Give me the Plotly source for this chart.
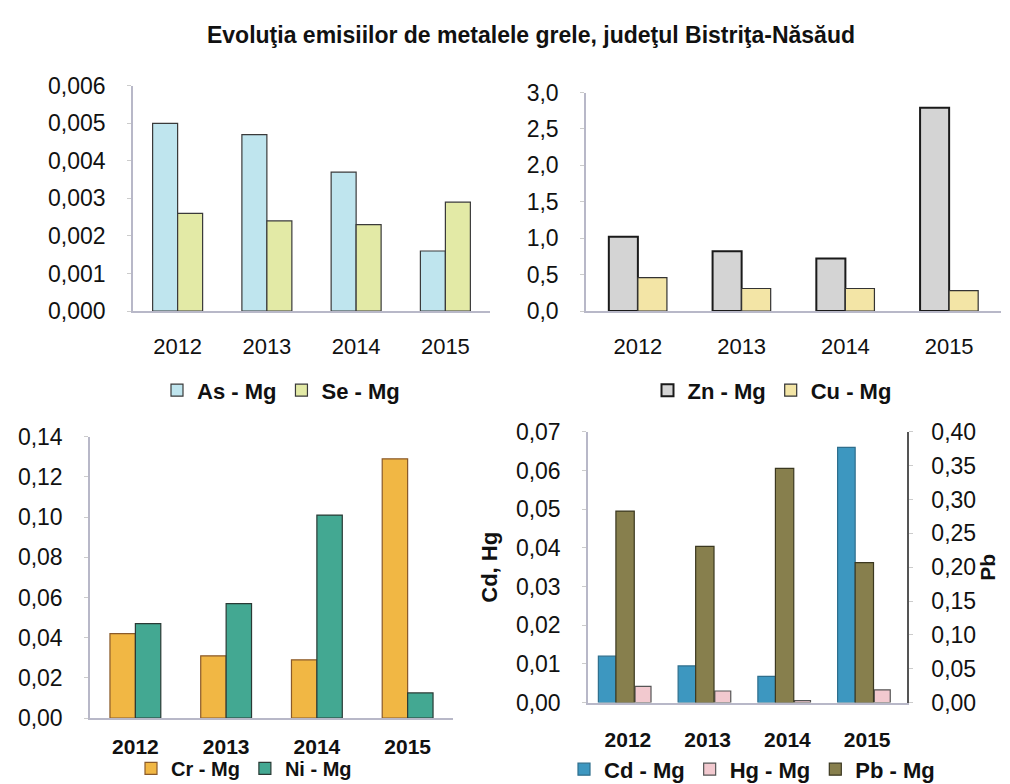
import plotly.graph_objects as go

years = ["2012", "2013", "2014", "2015"]

# panel 1
as_mg = [0.0050, 0.0047, 0.0037, 0.0016]
se_mg = [0.0026, 0.0024, 0.0023, 0.0029]
# panel 2
zn_mg = [1.02, 0.82, 0.72, 2.79]
cu_mg = [0.46, 0.31, 0.31, 0.28]
# panel 3
cr_mg = [0.042, 0.031, 0.029, 0.129]
ni_mg = [0.047, 0.057, 0.101, 0.0125]
# panel 4
cd_mg = [0.012, 0.0095, 0.0068, 0.066]
hg_mg = [0.0042, 0.0030, 0.0005, 0.0033]
pb_mg = [0.283, 0.231, 0.346, 0.207]

W, H = 1010, 784
FONT = "Liberation Sans, Arial, sans-serif"


def px(x):
    return x / W


def py(y):
    return 1 - y / H


fig = go.Figure()


def bar(y, name, color, edge, xa, ya, leg, lw=1.2, **kw):
    fig.add_trace(go.Bar(
        x=years, y=y, name=name, xaxis=xa, yaxis=ya, legend=leg,
        marker=dict(color=color, line=dict(color=edge, width=lw)), **kw
    ))


bar(as_mg, "As - Mg", "#bfe5ee", "#3a3a3a", "x", "y", "legend")
bar(se_mg, "Se - Mg", "#e3eaa6", "#3a3a3a", "x", "y", "legend")
bar(zn_mg, "Zn - Mg", "#d4d4d4", "#1a1a1a", "x2", "y2", "legend2", lw=2)
bar(cu_mg, "Cu - Mg", "#f3e5a6", "#333333", "x2", "y2", "legend2")
bar(cr_mg, "Cr - Mg", "#f1b744", "#8a5a2a", "x3", "y3", "legend3")
bar(ni_mg, "Ni - Mg", "#43a892", "#2a3a35", "x3", "y3", "legend3")
bar(cd_mg, "Cd - Mg", "#3d97c0", "#2e6e8c", "x4", "y4", "legend4", offset=-0.37, width=0.22)
bar(hg_mg, "Hg - Mg", "#f2c9cf", "#555555", "x4", "y4", "legend4", offset=0.09, width=0.2)
bar(pb_mg, "Pb - Mg", "#877f4d", "#3b3820", "x4", "y5", "legend4", offset=-0.15, width=0.23)

tickfont = dict(family=FONT, size=23, color="#111111")
xfont = dict(family=FONT, size=22, color="#111111")
boldfont = dict(family=FONT, size=21, color="#111111", weight="bold")


def xax(dom, anchor, font, standoff):
    return dict(domain=dom, anchor=anchor, type="category", showline=True,
                linecolor="#b8b8c8", linewidth=1.5, ticks="", showgrid=False,
                tickfont=font, ticklabelstandoff=standoff)


def yax(dom, anchor, rng, dtick, fmt, **kw):
    d = dict(domain=dom, anchor=anchor, range=rng, dtick=dtick, tickformat=fmt,
             showline=True, linecolor="#b8b8c8", linewidth=1.5, ticks="outside",
             ticklen=4, tickcolor="#cccccc", showgrid=False, zeroline=False,
             tickfont=tickfont, ticklabelstandoff=17)
    d.update(kw)
    return d


def legend(x, y, size):
    return dict(x=x, y=y, xanchor="center", yanchor="middle", orientation="h",
                font=dict(family=FONT, size=size, color="#111111", weight="bold"),
                itemwidth=30, bgcolor="rgba(0,0,0,0)", tracegroupgap=0)


fig.update_layout(
    width=W, height=H,
    margin=dict(l=0, r=0, t=0, b=0),
    paper_bgcolor="white", plot_bgcolor="white",
    separators=", ",
    barmode="group",
    showlegend=True,
    font=dict(family=FONT, color="#111111"),
    title=dict(text="Evoluţia emisiilor de metalele grele, judeţul Bistriţa-Năsăud",
               x=px(523), xanchor="center", y=py(27), yanchor="middle",
               font=dict(family=FONT, size=23, color="#111111", weight="bold")),
    xaxis=xax([px(125), px(482)], "y", xfont, 15),
    yaxis=yax([py(300), py(67)], "x", [0, 0.006], 0.001, ".3f"),
    xaxis2=xax([px(578), px(993)], "y2", xfont, 15),
    yaxis2=yax([py(300), py(74)], "x2", [0, 3.0], 0.5, ".1f"),
    xaxis3=xax([px(82), px(445)], "y3", boldfont, 9),
    yaxis3=yax([py(721), py(430)], "x3", [0, 0.14], 0.02, ".2f"),
    xaxis4=xax([px(580), px(899)], "y4", boldfont, 17),
    yaxis4=yax([py(705), py(425)], "x4", [0, 0.07], 0.01, ".2f",
               title=dict(text="Cd, Hg", standoff=12,
                          font=dict(family=FONT, size=22, color="#111111", weight="bold"))),
    yaxis5=yax([py(705), py(425)], "x4", [0, 0.40], 0.05, ".2f", overlaying="y4",
               side="right", linecolor="#555555", ticklabelstandoff=14,
               title=dict(text="Pb", standoff=4,
                          font=dict(family=FONT, size=21, color="#111111", weight="bold"))),
    bargap=0.44,
    bargroupgap=0.0,
    legend=legend(px(273), py(382), 22),
    legend2=legend(px(764), py(382), 22),
    legend3=legend(px(236), py(773), 20),
    legend4=legend(px(744), py(774), 22),
)

fig.write_html("out.html")
